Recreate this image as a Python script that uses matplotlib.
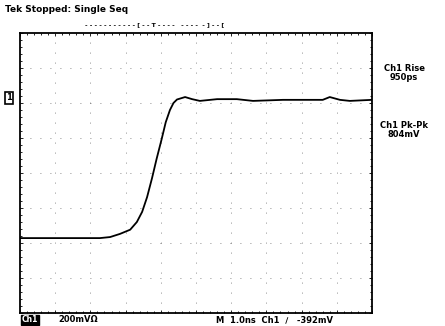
import numpy as np
import matplotlib.pyplot as plt
from matplotlib.ticker import MultipleLocator

# waveform, in divisions (x: 1.0 ns/div, y: 200 mV/div)
t_div = [0.0, 1.14, 2.27, 2.56, 2.84, 3.13, 3.32, 3.47, 3.61, 3.75, 3.88, 4.02, 4.14, 4.26,
         4.36, 4.46, 4.69, 4.89, 5.11, 5.6, 6.16, 6.62, 7.47, 8.6, 8.8, 9.09, 9.37, 10.0]
v_div = [-1.86, -1.86, -1.86, -1.83, -1.74, -1.62, -1.40, -1.11, -0.69, -0.15, 0.40, 0.95, 1.45, 1.80,
         2.00, 2.10, 2.17, 2.11, 2.06, 2.11, 2.11, 2.06, 2.09, 2.09, 2.17, 2.09, 2.06, 2.09]

status = "Tek Stopped: Single Seq"
meas = ["Ch1 Rise\n950ps", "Ch1 Pk-Pk\n804mV"]
ch_scale = "200mV\u03a9"
timebase = "M  1.0ns  Ch1  \u2215   -392mV"

plt.rcParams["font.family"] = ["DejaVu Sans"]
fig = plt.figure(figsize=(4.45, 3.26), dpi=100)
ax = fig.add_axes([20 / 445, 13 / 326, 352 / 445, 280 / 326])
ax.set_xlim(0, 10)
ax.set_ylim(-4, 4)

# dotted graticule
for gx in range(1, 10):
    ax.axvline(gx, color="black", lw=0.6, ls=(0, (1, 11)), alpha=0.6)
for gy in range(-3, 4):
    ax.axhline(gy, color="black", lw=0.6, ls=(0, (1, 11)), alpha=0.6)

ax.plot(t_div, v_div, color="black", lw=1.3)

for s in ax.spines.values():
    s.set_linewidth(1.3)
ax.xaxis.set_major_locator(MultipleLocator(1))
ax.xaxis.set_minor_locator(MultipleLocator(0.2))
ax.yaxis.set_major_locator(MultipleLocator(1))
ax.yaxis.set_minor_locator(MultipleLocator(0.2))
ax.tick_params(which="both", direction="in", top=True, right=True,
               labelbottom=False, labelleft=False, length=2, width=0.6)
ax.tick_params(which="minor", length=1.2)

fs = 6
fig.text(5 / 445, 1 - 10 / 326, status, fontsize=fs + 0.5, fontweight="bold", va="center")
fig.text(85 / 445, 1 - 25 / 326, "- - - - - - - - - - - [ - - T - - - -   - - - -  - ] - - [",
         fontsize=4.5, fontweight="bold", va="center")
fig.text(404 / 445, 1 - 73 / 326, meas[0], fontsize=fs, fontweight="bold",
         ha="center", va="center", linespacing=0.9)
fig.text(404 / 445, 1 - 130 / 326, meas[1], fontsize=fs, fontweight="bold",
         ha="center", va="center", linespacing=0.9)
fig.text(22 / 445, 1 - 320 / 326, "Ch1", fontsize=fs - 0.5, fontweight="bold", color="white",
         va="center", bbox=dict(boxstyle="square,pad=0.1", fc="black", ec="black"))
fig.text(58 / 445, 1 - 320 / 326, ch_scale, fontsize=fs, fontweight="bold", va="center")
fig.text(216 / 445, 1 - 320 / 326, timebase, fontsize=fs, fontweight="bold", va="center")

# channel 1 marker on the left edge
fig.text(6 / 445, 1 - 98 / 326, "1", fontsize=fs, fontweight="bold", va="center",
         bbox=dict(boxstyle="square,pad=0.15", fc="white", ec="black", lw=1.2))

fig.savefig("out.png", dpi=100)
